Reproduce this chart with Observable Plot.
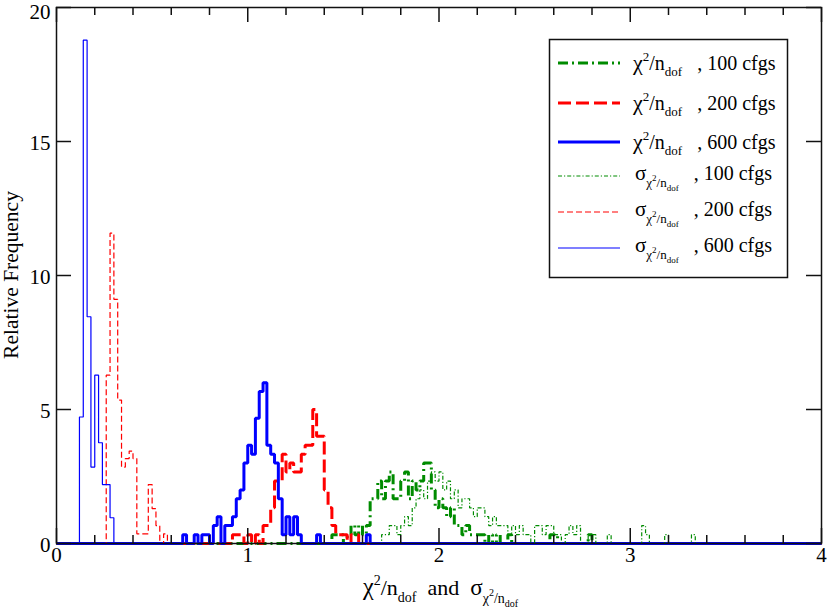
<!DOCTYPE html>
<html><head><meta charset="utf-8">
<script src="https://cdn.jsdelivr.net/npm/d3@7"></script>
<script src="https://cdn.jsdelivr.net/npm/@observablehq/plot@0.6"></script>
<style>
body{margin:0;background:#fff;}
#chart{position:relative;width:831px;height:610px;}
</style></head><body><div id="chart"></div>
<script>
// ---------- data ----------
const binWidth = 0.02;
const xDomain = [0, 4];
const yDomain = [0, 20];
const xMajorTicks = [0, 1, 2, 3, 4];
const xMinorTicks = [0.2, 0.4, 0.6, 0.8, 1.2, 1.4, 1.6, 1.8, 2.2, 2.4, 2.6, 2.8, 3.2, 3.4, 3.6, 3.8];
const yMajorTicks = [0, 5, 10, 15, 20];
const cfgCounts = ["100", "200", "600"];

// chi^2/ndof histograms (relative frequency per 0.02 bin), first bin edge + values
const chi100Start = 1.44;
const chi100 = [0.33, 0.33, 0.33, 0, 0.33, 0.67, 0.33, 0.67, 0.33, 0.67,
  1.67, 1.67, 2.33, 1.67, 2.33, 2.67, 1.67, 1.67, 2.33, 2.67,
  1.67, 2.33, 2.0, 2.33, 3.0, 3.0, 2.0, 1.33, 1.67, 1.33,
  1.0, 1.33, 0.67, 0.67, 0.33, 0.67, 0.33, 0.33, 0.33, 0.33,
  0, 0.33, 0, 0.33, 0, 0, 0.33,
  0, 0, 0, 0, 0, 0, 0, 0, 0, 0,
  0.33, 0.33,
  0, 0, 0, 0, 0, 0, 0, 0,
  0.33];
const chi200Start = 0.92;
const chi200 = [0.33, 0.33, 0.33, 0, 0.33, 0, 0.33, 0, 0.67, 0.67,
  1.33, 2.33, 2.33, 3.33, 2.67, 3.0, 2.67, 2.67, 3.33, 3.67,
  3.67, 5.0, 4.0, 4.0, 2.0, 1.33, 0.67, 0.33, 0.33, 0.33,
  0, 0.33, 0.33];
const chi600Start = 0.66;
const chi600 = [0.33, 0, 0, 0.33, 0, 0.33, 0.33, 0, 0.67, 1.0,
  0, 0.67, 0.67, 1.0, 1.67, 2.0, 3.0, 3.67, 3.33, 4.67,
  5.67, 6.0, 3.67, 3.33, 3.0, 1.67, 0.33, 1.0, 0.33, 1.0,
  0.33, 0, 0, 0, 0, 0.33,
  0, 0, 0, 0, 0, 0, 0, 0, 0, 0, 0, 0,
  0.33];

// sigma_{chi^2/ndof} histograms
const sig100Start = 1.70;
const sig100 = [0.33, 0.33, 0.67, 0.67, 0.33, 0.67, 1.0, 0.67, 1.33, 1.67,
  2.0, 1.67, 2.33, 2.67, 2.33, 2.67, 2.0, 2.33, 1.67, 2.0,
  1.33, 1.67, 1.67, 1.33, 1.0, 1.33, 1.33, 1.0, 0.67, 1.0,
  0.67, 0.67, 0.67, 0.33, 0.67, 0.33, 0.67, 0.33, 0.33, 0,
  0.67, 0.67, 0.33, 0.67, 0.67, 0.33, 0.33, 0, 0.33, 0.67,
  0.33, 0.67, 0, 0, 0.33, 0.33, 0, 0, 0, 0.33,
  0, 0, 0, 0, 0, 0, 0, 0,
  0.67, 0.33, 0, 0, 0, 0, 0.33,
  0, 0, 0, 0, 0, 0, 0.33];
const sig200Start = 0.26;
const sig200 = [6.28, 11.58, 9.11, 5.35, 2.85, 3.17, 3.45, 3.17, 0.36, 0.36,
  0.36, 2.2, 1.3, 0.67, 0, 0.36];
const sig600Start = 0.12;
const sig600 = [4.72, 18.78, 8.46, 2.85, 6.28, 3.76, 2.2, 2.2, 0.96];

const seriesKeys = ["chi100", "chi200", "chi600", "sig100", "sig200", "sig600"];
const seriesData = {
  chi100: [chi100Start, chi100], chi200: [chi200Start, chi200], chi600: [chi600Start, chi600],
  sig100: [sig100Start, sig100], sig200: [sig200Start, sig200], sig600: [sig600Start, sig600]
};

// ---------- styles ----------
const styles = {
  chi100: {stroke: "#008b00", width: 3, dash: "10,4,2,4"},
  chi200: {stroke: "#ff0000", width: 3, dash: "13,5"},
  chi600: {stroke: "#0000ff", width: 3, dash: null},
  sig100: {stroke: "#008b00", width: 1.2, dash: "4,2,1.2,2"},
  sig200: {stroke: "#ff0000", width: 1.2, dash: "6,3"},
  sig600: {stroke: "#0000ff", width: 1.2, dash: null}
};
const W = 831, H = 610;
const M = {top: 7, right: 10, bottom: 67, left: 56};
const plotW = W - M.left - M.right, plotH = H - M.top - M.bottom;
const FONT = "'Liberation Serif', 'Times New Roman', serif";

function outline(start, values) {
  const pts = [{x: xDomain[0], y: 0}, {x: start, y: 0}];
  values.forEach((v, i) => pts.push({x: start + i * binWidth, y: v}));
  pts.push({x: start + values.length * binWidth, y: 0});
  pts.push({x: xDomain[1], y: 0});
  return pts;
}

const lineMarks = seriesKeys.map(k => {
  const [s, v] = seriesData[k];
  const st = styles[k];
  return Plot.line(outline(s, v), {
    x: "x", y: "y", curve: "step-after",
    stroke: st.stroke, strokeWidth: st.width,
    strokeDasharray: st.dash || undefined,
    strokeLinejoin: "miter", strokeLinecap: "butt"
  });
});

const tickStyle = {stroke: "#111", strokeWidth: 1.5};
const yLabelTicks = yMajorTicks.slice(0, -1);
const yTopTick = yMajorTicks.slice(-1);
const chart = Plot.plot({
  width: W, height: H,
  marginTop: M.top, marginRight: M.right, marginBottom: M.bottom, marginLeft: M.left,
  style: {fontFamily: FONT, fontSize: "20px", background: "white", color: "black"},
  x: {domain: xDomain},
  y: {domain: yDomain},
  marks: [
    ...lineMarks,
    Plot.frame({stroke: "#111", strokeWidth: 1.5}),
    Plot.tickX(xMajorTicks, {x: d => d, insetTop: plotH - 15, ...tickStyle}),
    Plot.tickX(xMajorTicks, {x: d => d, insetBottom: plotH - 15, ...tickStyle}),
    Plot.tickX(xMinorTicks, {x: d => d, insetTop: plotH - 8, ...tickStyle}),
    Plot.tickX(xMinorTicks, {x: d => d, insetBottom: plotH - 8, ...tickStyle}),
    Plot.tickY(yMajorTicks, {y: d => d, insetRight: plotW - 15, ...tickStyle}),
    Plot.tickY(yMajorTicks, {y: d => d, insetLeft: plotW - 15, ...tickStyle}),
    Plot.axisX({ticks: xMajorTicks, tickSize: 0, tickPadding: 4, label: null, tickFormat: d => String(d),
      fontSize: 21, fontFamily: FONT, fill: "black"}),
    Plot.axisY({ticks: yLabelTicks, tickSize: 0, tickPadding: 6, label: null, tickFormat: d => String(d),
      fontSize: 21, fontFamily: FONT, fill: "black", dy: 2}),
    Plot.axisY({ticks: yTopTick, tickSize: 0, tickPadding: 6, label: null, tickFormat: d => String(d),
      fontSize: 21, fontFamily: FONT, fill: "black", dy: 5})
  ]
});
document.getElementById("chart").appendChild(chart);

// ---------- titles & legend ----------
const svg = d3.select(chart);
function addParts(textSel, parts) {
  parts.forEach(p => {
    const t = textSel.append("tspan").text(p.t).attr("font-size", p.s);
    if (p.dy) t.attr("dy", p.dy);
  });
}
const chiParts = (big, small) => [
  {t: "\u03c7", s: big * 1.1},
  {t: "2", s: small, dy: -0.45 * big},
  {t: "/n", s: big, dy: 0.45 * big},
  {t: "dof", s: small, dy: 0.3 * big},
];
const sigParts = (big, small, tiny) => [
  {t: "\u03c3", s: big * 1.05},
  {t: "\u03c7", s: small, dy: 0.35 * big},
  {t: "2", s: tiny, dy: -0.3 * big},
  {t: "/n", s: small, dy: 0.3 * big},
  {t: "dof", s: tiny, dy: 0.2 * big},
];

// y title
svg.append("text")
  .attr("transform", `translate(18,${M.top + plotH / 2}) rotate(-90)`)
  .attr("text-anchor", "middle").attr("font-family", FONT).attr("font-size", 21.5)
  .attr("fill", "black").text("Relative Frequency");

// x title
const xt = svg.append("text").attr("x", M.left + plotW / 2 + 2).attr("y", 595)
  .attr("text-anchor", "middle").attr("font-family", FONT).attr("fill", "black")
  .attr("xml:space", "preserve");
addParts(xt, [...chiParts(22, 14), {t: "\u00a0\u00a0and\u00a0\u00a0", s: 22, dy: -0.3 * 22},
  ...sigParts(22, 14, 10)]);

// legend
const lg = svg.append("g").attr("font-family", FONT).attr("fill", "black").attr("text-anchor", "start");
lg.append("rect").attr("x", 549.5).attr("y", 39.5).attr("width", 238).attr("height", 238)
  .attr("fill", "white").attr("stroke", "#111").attr("stroke-width", 1.5);
const rowY = [63, 103, 142, 176, 212, 248];
seriesKeys.forEach((k, i) => {
  const st = styles[k];
  lg.append("line").attr("x1", 558).attr("x2", 620).attr("y1", rowY[i]).attr("y2", rowY[i])
    .attr("stroke", st.stroke).attr("stroke-width", st.width)
    .attr("stroke-dasharray", st.dash || null);
  const isChi = i < 3;
  const t = lg.append("text").attr("x", isChi ? 633 : 635).attr("y", rowY[i] + (isChi ? 7 : 4))
    .attr("text-anchor", "start").attr("xml:space", "preserve");
  if (isChi) addParts(t, [...chiParts(20, 13), {t: "\u00a0\u00a0\u00a0, " + cfgCounts[i % 3] + " cfgs", s: 20, dy: -0.3 * 20}]);
  else addParts(t, [...sigParts(20, 13, 9), {t: "\u00a0\u00a0\u00a0, " + cfgCounts[i % 3] + " cfgs", s: 20, dy: -0.55 * 20}]);
});
</script></body></html>
